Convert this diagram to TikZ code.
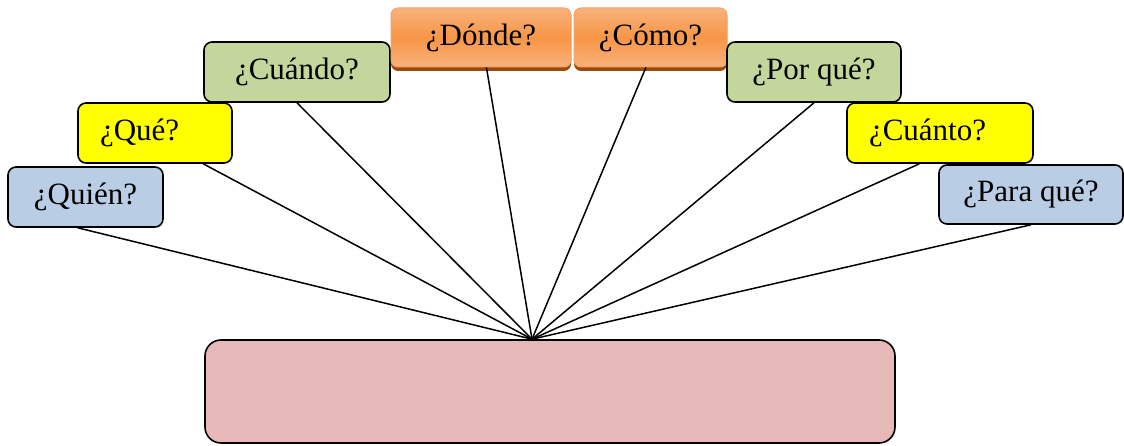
\documentclass[tikz,border=0pt]{standalone}
\usepackage{fontspec}
\setmainfont{Liberation Serif}
\usetikzlibrary{calc,shadows}
\definecolor{bluebox}{HTML}{B9CDE5}
\definecolor{yelbox}{HTML}{FFFF00}
\definecolor{grnbox}{HTML}{C3D69B}
\definecolor{pinkbox}{HTML}{E6B8B7}
\definecolor{orM}{HTML}{F79646}
\definecolor{orL}{HTML}{F9B27C}
\definecolor{orB}{HTML}{F3A468}
\definecolor{orS}{HTML}{9A4A0A}
\tikzset{
  qbox/.style={draw=black, line width=1.6pt, rounded corners=8pt, inner sep=0pt,
    font=\fontsize{31}{34}\selectfont, align=center},
  lbox/.style={qbox, align=left, inner xsep=22pt},
  obox/.style={draw=orB, line width=1pt, rounded corners=7pt, inner sep=0pt,
    top color=orL, bottom color=orL, middle color=orM,
    font=\fontsize{31}{34}\selectfont,
    drop shadow={shadow xshift=0pt, shadow yshift=-4pt, fill=orS, opacity=1}},
  conn/.style={draw=black, line width=1.5pt}
}
\begin{document}
\begin{tikzpicture}[x=1pt,y=1pt]
\useasboundingbox (0,0) rectangle (1124,446);
\node[qbox, fill=bluebox, minimum width=155pt, minimum height=60pt] (quien) at (85.5,249) {¿Quién?};
\node[lbox, fill=yelbox, text width=110pt, minimum height=60pt] (que) at (155,313) {¿Qué?};
\node[qbox, fill=grnbox, minimum width=186pt, minimum height=60pt] (cuando) at (297,374) {¿Cuándo?};
\node[obox, minimum width=180pt, minimum height=59pt] (donde) at (481,408.5) {¿Dónde?};
\node[obox, minimum width=153pt, minimum height=59pt] (como) at (650.5,408.5) {¿Cómo?};
\node[qbox, fill=grnbox, minimum width=174pt, minimum height=60pt] (porque) at (814,374) {¿Por qué?};
\node[lbox, fill=yelbox, text width=142pt, minimum height=60pt] (cuanto) at (940,313) {¿Cuánto?};
\node[qbox, fill=bluebox, minimum width=184pt, minimum height=59pt] (paraque) at (1031,251.5) {¿Para qué?};
\node[qbox, fill=pinkbox, rounded corners=16pt, minimum width=690pt, minimum height=103pt] (tema) at (550,54.5) {};
\coordinate (hub) at ($(tema.north west)!0.474!(tema.north east)$);
\draw[conn] ($(quien.south west)!0.45!(quien.south east)$) -- (hub);
\draw[conn] ($(que.south west)!0.81!(que.south east)$) -- (hub);
\draw[conn] (cuando.south) -- (hub);
\draw[conn] ($(donde.south west)!0.53!(donde.south east)$) -- (hub);
\draw[conn] ($(como.south west)!0.47!(como.south east)$) -- (hub);
\draw[conn] (porque.south) -- (hub);
\draw[conn] ($(cuanto.south west)!0.39!(cuanto.south east)$) -- (hub);
\draw[conn] (paraque.south) -- (hub);
\end{tikzpicture}
\end{document}
